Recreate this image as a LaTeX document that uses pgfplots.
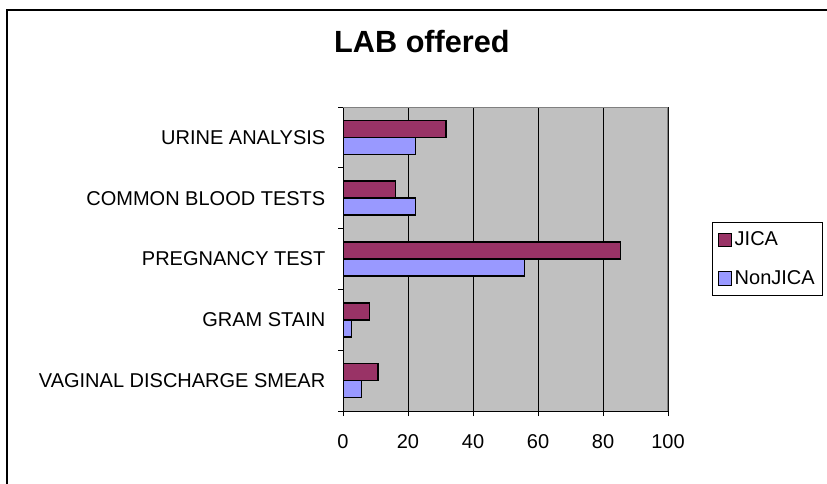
\documentclass[border=0pt]{standalone}
\usepackage{fontspec}
\setmainfont{Liberation Sans}
\usepackage{pgfplots}
\pgfplotsset{compat=1.18}
\definecolor{jica}{HTML}{993366}
\definecolor{nonjica}{HTML}{9999FF}
\definecolor{plotbg}{HTML}{C0C0C0}
\definecolor{edgegray}{HTML}{808080}

\begin{document}
\begin{tikzpicture}
\useasboundingbox (0,0) rectangle (620.25pt,362.25pt);
% outer chart frame (cut off at right and bottom)
\draw[line width=1.5pt] (5.25pt,-5pt) -- (5.25pt,354.75pt) -- (630pt,354.75pt);
\begin{axis}[
    at={(257.25pt,54pt)}, anchor=south west,
    width=243.75pt, height=228pt, scale only axis,
    xbar, bar width=12.75pt,
    xmin=0, xmax=100, xtick={0,20,...,100},
    ymin=-0.5, ymax=4.5,
    ytick={0,...,4},
    yticklabels={VAGINAL DISCHARGE SMEAR, GRAM STAIN, PREGNANCY TEST, COMMON BLOOD TESTS, URINE ANALYSIS},
    minor ytick={-0.5,0.5,...,4.5},
    xtick pos=bottom, ytick pos=left,
    tick align=outside,
    major tick length=3.75pt, minor tick length=3.75pt,
    major y tick style={draw=none},
    minor y tick style={draw=black, line width=0.75pt},
    x tick style={draw=black, line width=0.75pt},
    xmajorgrids, grid style={black, line width=0.75pt},
    axis line style={draw=none},
    axis background/.style={fill=plotbg},
    ticklabel style={font=\fontsize{15}{18}\selectfont},
    /pgf/number format/assume math mode=true,
    yticklabel style={xshift=-6pt},
    xticklabel style={yshift=-10pt},
    title={LAB offered},
    title style={font=\bfseries\fontsize{23}{28}\selectfont, at={(0.243,1)}, anchor=base, yshift=35.25pt},
    legend style={at={(1.135,0.622)}, anchor=north west, draw=black, line width=0.75pt,
        font=\fontsize{15}{18}\selectfont, row sep=13pt, inner xsep=4pt, inner ysep=5pt,
        /tikz/every even column/.append style={column sep=3pt}},
    legend cell align=left,
    legend image code/.code={\draw[#1, line width=0.75pt] (0pt,-5pt) rectangle (10pt,5pt);},
]
\addplot[fill=jica, draw=black, line width=1.2pt, bar shift=6.375pt]
    coordinates {(10.7,0) (8.1,1) (85.4,2) (16.2,3) (31.6,4)};
\addplot[fill=nonjica, draw=black, line width=1.2pt, bar shift=-6.375pt]
    coordinates {(5.7,0) (2.6,1) (55.8,2) (22.3,3) (22.3,4)};
\legend{JICA, NonJICA}
\draw[black, line width=0.75pt] (rel axis cs:0,1) -- (rel axis cs:0,0) -- (rel axis cs:1,0);
\draw[edgegray, line width=1.2pt] (rel axis cs:0,1) -- (rel axis cs:1,1) -- (rel axis cs:1,0);
\end{axis}
\end{tikzpicture}
\end{document}
